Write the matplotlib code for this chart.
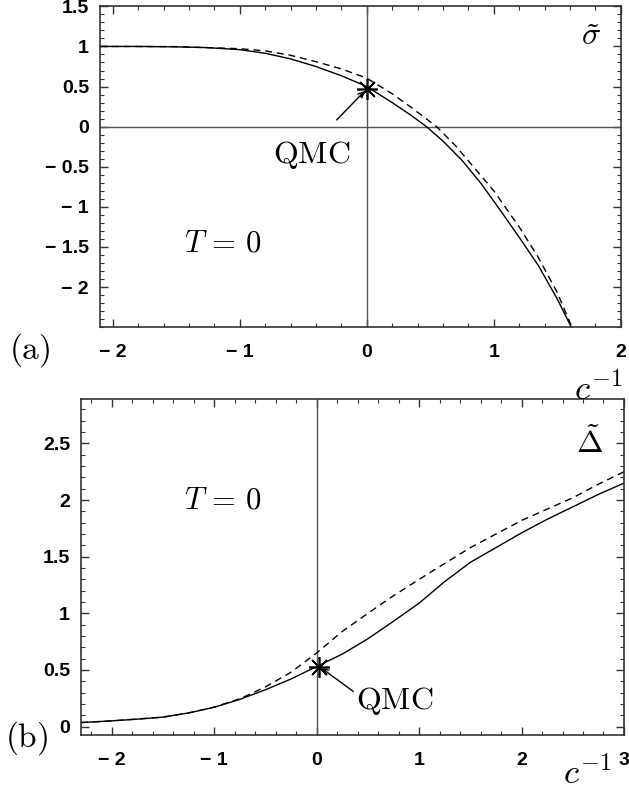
import matplotlib
matplotlib.use("Agg")
import matplotlib.pyplot as plt
from matplotlib.ticker import MultipleLocator

plt.rcParams['mathtext.fontset'] = 'cm'

# panel (a): sigma tilde vs 1/c
sig_x = [-2.1, -1.8, -1.5, -1.25, -1.0, -0.8, -0.6, -0.4, -0.2, 0.0, 0.2, 0.35, 0.47,
         0.6, 0.75, 0.9, 1.05, 1.2, 1.35, 1.5, 1.61]
sig_solid = [1.0, 1.0, 0.995, 0.985, 0.96, 0.915, 0.845, 0.75, 0.635, 0.50, 0.30, 0.14, 0.0,
             -0.18, -0.42, -0.71, -1.04, -1.38, -1.73, -2.15, -2.5]
sigd_x = [-2.1, -1.5, -1.0, -0.8, -0.6, -0.4, -0.2, 0.0, 0.2, 0.35, 0.55,
          0.7, 0.85, 1.0, 1.2, 1.35, 1.5, 1.615]
sig_dash = [1.0, 0.998, 0.972, 0.945, 0.89, 0.81, 0.72, 0.605, 0.41, 0.24, 0.0,
            -0.24, -0.52, -0.80, -1.25, -1.63, -2.07, -2.5]
qmc_a = (0.0, 0.47)

# panel (b): Delta tilde vs 1/c
del_x = [-2.3, -2.0, -1.75, -1.5, -1.25, -1.0, -0.75, -0.5, -0.25, 0.0, 0.25, 0.5, 0.75,
         1.0, 1.25, 1.5, 1.75, 2.0, 2.25, 2.5, 2.75, 3.0]
del_solid = [0.035, 0.05, 0.065, 0.083, 0.12, 0.17, 0.24, 0.325, 0.42, 0.53, 0.64, 0.775, 0.93,
             1.09, 1.28, 1.45, 1.58, 1.71, 1.83, 1.94, 2.05, 2.15]
deld_x = [-2.3, -2.0, -1.5, -1.25, -1.0, -0.75, -0.5, -0.25, 0.0, 0.25, 0.5, 0.75,
          1.0, 1.25, 1.5, 1.75, 2.0, 2.25, 2.5, 2.75, 3.0]
del_dash = [0.035, 0.05, 0.083, 0.12, 0.172, 0.245, 0.35, 0.48, 0.65, 0.84, 1.0, 1.155,
            1.30, 1.44, 1.58, 1.70, 1.82, 1.92, 2.02, 2.14, 2.25]
qmc_b = (0.025, 0.53)

tick_font = dict(family='Liberation Sans', weight='bold', size=14)


def fmt(t):
    # the original prints negatives as "- 2" with a gap after the minus
    return ('\u2212 %g' % -t) if t < 0 else '%g' % t


def style(ax, xticks, yticks, xminor, yminor):
    for s in ax.spines.values():
        s.set_linewidth(1.2)
        s.set_color('#333333')
    ax.set_xticks(xticks)
    ax.set_xticklabels([fmt(t) for t in xticks], fontdict=tick_font)
    ax.set_yticks(yticks)
    ax.set_yticklabels([fmt(t) for t in yticks], fontdict=tick_font)
    ax.xaxis.set_minor_locator(MultipleLocator(xminor))
    ax.yaxis.set_minor_locator(MultipleLocator(yminor))
    ax.tick_params(which='both', direction='in', top=True, right=True, color='#333333')
    ax.tick_params(which='major', length=6, width=1)
    ax.tick_params(which='minor', length=3, width=0.8)
    ax.tick_params(axis='x', which='major', pad=12)
    ax.tick_params(axis='y', which='major', pad=8)


fig = plt.figure(figsize=(6.29, 7.94), dpi=100)
ax1 = fig.add_axes([0.159, 0.588, 0.828, 0.404])
ax2 = fig.add_axes([0.129, 0.0743, 0.863, 0.4228])

# ---- (a)
ax1.axhline(0, color='#555555', lw=1)
ax1.axvline(0, color='#555555', lw=1)
ax1.plot(sig_x, sig_solid, color='k', lw=1)
ax1.plot(sigd_x, sig_dash, color='k', lw=1, dashes=(5, 3.5))
ax1.plot(*qmc_a, marker=(8, 2, 0), ms=15, mew=1.2, color='k')
ax1.annotate('', xy=qmc_a, xytext=(-0.237, 0.084),
             arrowprops=dict(arrowstyle='->', lw=1, color='k', shrinkA=0, shrinkB=2))
ax1.text(-0.43, -0.35, r'$\mathrm{QMC}$', fontsize=23, ha='center', va='center')
ax1.text(-1.135, -1.455, r'$T\,=\,0$', fontsize=22, ha='center', va='center')
ax1.text(1.765, 1.125, r'$\tilde{\sigma}$', fontsize=23, ha='center', va='center')
ax1.set_xlim(-2.1, 2.0)
ax1.set_ylim(-2.5, 1.5)
style(ax1, [-2, -1, 0, 1, 2], [-2, -1.5, -1, -0.5, 0, 0.5, 1, 1.5], 0.2, 0.1)

# ---- (b)
ax2.axvline(0, color='#555555', lw=1)
ax2.plot(del_x, del_solid, color='k', lw=1)
ax2.plot(deld_x, del_dash, color='k', lw=1, dashes=(5, 3.5))
ax2.plot(*qmc_b, marker=(8, 2, 0), ms=15, mew=1.2, color='k')
ax2.annotate('', xy=qmc_b, xytext=(0.357, 0.31),
             arrowprops=dict(arrowstyle='->', lw=1, color='k', shrinkA=0, shrinkB=2))
ax2.text(0.76, 0.226, r'$\mathrm{QMC}$', fontsize=23, ha='center', va='center')
ax2.text(-0.914, 2.0, r'$T\,=\,0$', fontsize=22, ha='center', va='center')
ax2.text(2.667, 2.5, r'$\tilde{\Delta}$', fontsize=23, ha='center', va='center')
ax2.set_xlim(-2.3, 3.0)
ax2.set_ylim(-0.075, 2.89)
style(ax2, [-2, -1, 0, 1, 2, 3], [0, 0.5, 1, 1.5, 2, 2.5], 0.2, 0.1)

fig.text(30 / 629, 1 - 350 / 794, r'$(\mathrm{a})$', fontsize=24, ha='center', va='center')
fig.text(27 / 629, 1 - 738 / 794, r'$(\mathrm{b})$', fontsize=24, ha='center', va='center')
fig.text(622 / 629, 1 - 390 / 794, r'$c^{-1}$', fontsize=25, ha='right', va='center')
fig.text(611 / 629, 1 - 774 / 794, r'$c^{-1}$', fontsize=25, ha='right', va='center')

fig.savefig('out.png', dpi=100)
